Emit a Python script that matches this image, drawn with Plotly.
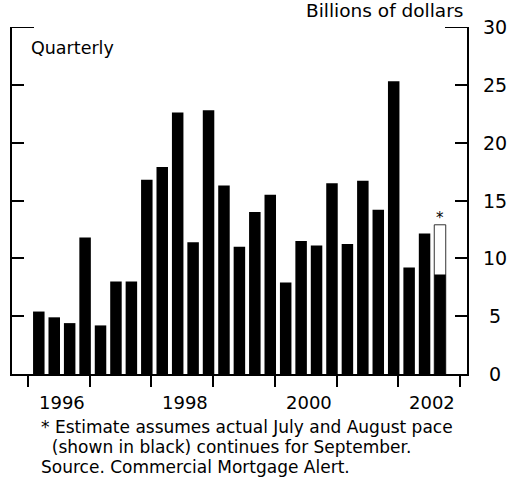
import plotly.graph_objects as go

# ---- data ----
first_year = 1996
n_years = 7
quarter_values = [5.4, 4.9, 4.4, 11.8,
                  4.2, 8.0, 8.0, 16.8,
                  17.9, 22.6, 11.4, 22.8,
                  16.3, 11.0, 14.0, 15.5,
                  7.9, 11.5, 11.1, 16.5,
                  11.25, 16.7, 14.2, 25.3,
                  9.2, 12.15, 8.6]
estimate_total = 12.9
year_labels = ["1996", "1998", "2000", "2002"]
y_ticks = [0, 5, 10, 15, 20, 25, 30]
caption_lines = ["* Estimate assumes actual July and August pace",
                 "\u00a0\u00a0(shown in black) continues for September.",
                 "Source. Commercial Mortgage Alert."]

FONT = "DejaVu Sans, Liberation Sans, Arial, sans-serif"
FS = 18

x = list(range(len(quarter_values)))
last = x[-1]

fig = go.Figure()
fig.add_bar(x=[last], y=[estimate_total],
            marker=dict(color="white", line=dict(color="#333333", width=1)),
            hoverinfo="skip")
fig.add_bar(x=x, y=quarter_values,
            marker=dict(color="black", line=dict(width=0)))

tick_pos = [k * 4 - 0.7 for k in range(n_years + 1)]

annotations = []
for lab in year_labels:
    annotations.append(dict(x=(int(lab) - first_year) * 4 + 1.5, xref="x",
                            y=-0.081, yref="paper", text=lab, showarrow=False,
                            xanchor="center", yanchor="middle",
                            font=dict(family=FONT, size=FS, color="black")))
for v in y_ticks:
    annotations.append(dict(x=1.0615, xref="paper", y=v, yref="y", text=str(v),
                            showarrow=False, xanchor="center", yanchor="middle",
                            font=dict(family=FONT, size=19, color="black")))
caption_y = [426.5, 446.5, 466.5]
for line, py in zip(caption_lines, caption_y):
    annotations.append(dict(x=(39 - 12) / 455, xref="paper",
                            y=(373.5 - py) / 346, yref="paper", text=line,
                            showarrow=False, xanchor="left", yanchor="middle",
                            font=dict(family=FONT, size=17, color="black")))
annotations.append(dict(x=(465 - 12) / 455, xref="paper", y=(373.5 - 11) / 346,
                        yref="paper", text="Billions of dollars", showarrow=False,
                        xanchor="right", yanchor="middle",
                        font=dict(family=FONT, size=18.5, color="black")))
annotations.append(dict(x=(29 - 12) / 455, xref="paper", y=(373.5 - 48) / 346,
                        yref="paper", text="Quarterly", showarrow=False,
                        xanchor="left", yanchor="middle",
                        font=dict(family=FONT, size=17.5, color="black")))
annotations.append(dict(x=last, xref="x", y=estimate_total, yref="y", text="*",
                        showarrow=False, xanchor="center", yanchor="bottom",
                        yshift=-4, font=dict(family=FONT, size=15, color="black")))

shapes = [
    dict(type="line", xref="paper", yref="y", x0=0, x1=22 / 455, y0=30, y1=30,
         line=dict(color="black", width=2)),
    dict(type="line", xref="paper", yref="y", x0=1 - 22 / 455, x1=1, y0=30, y1=30,
         line=dict(color="black", width=2)),
]

fig.update_layout(
    width=514, height=480,
    margin=dict(l=12, r=47, t=27, b=106),
    paper_bgcolor="white", plot_bgcolor="white",
    barmode="overlay", bargap=0.255,
    showlegend=False,
    font=dict(family=FONT, size=FS, color="black"),
    annotations=annotations, shapes=shapes,
    xaxis=dict(range=[-1.737, 27.75], showgrid=False, zeroline=False,
               showline=True, linewidth=2, linecolor="black",
               tickmode="array", tickvals=tick_pos, ticks="outside",
               ticklen=11, tickwidth=2, tickcolor="black",
               showticklabels=False),
    yaxis=dict(range=[0, 30], showgrid=False, zeroline=False,
               showline=True, linewidth=2, linecolor="black", mirror="ticks",
               tickmode="array", tickvals=y_ticks, ticks="inside",
               ticklen=12, tickwidth=2, tickcolor="black",
               showticklabels=False),
)

fig.write_html("out.html", config={"displayModeBar": False},
               post_script="document.body.style.margin='0px';document.body.style.overflow='hidden';")
